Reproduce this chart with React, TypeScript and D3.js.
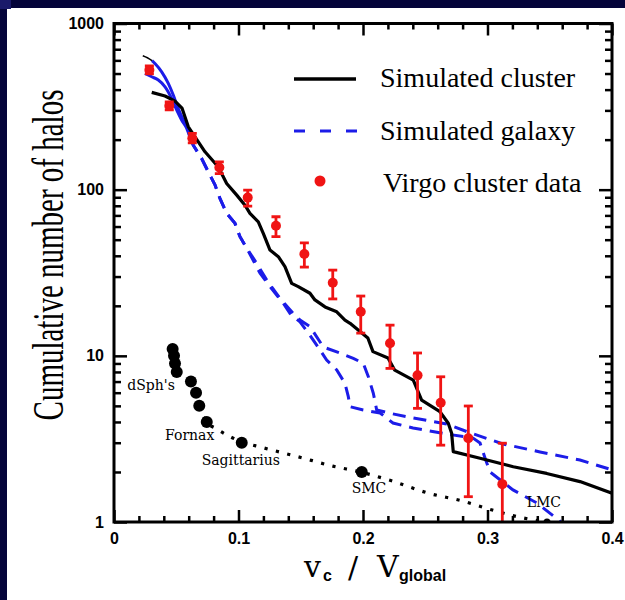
import React from 'react';
import * as d3 from 'd3';

type Pt = [number, number];

// x = v_c / V_global, y = cumulative number of halos
const clusterCurve: Pt[] = [
  [0.0303, 385], [0.041, 366], [0.049, 341], [0.0546, 310], [0.0597, 239], [0.0731, 169],
  [0.0838, 137], [0.0905, 109], [0.0986, 92.7], [0.1052, 80.7], [0.1092, 72], [0.1159, 64.1],
  [0.1199, 54.6], [0.1253, 43.3], [0.132, 39.5], [0.1373, 34.4], [0.1427, 27.3], [0.148, 26.1],
  [0.1574, 23.8], [0.1614, 21.7], [0.1695, 19.7], [0.1789, 18.4], [0.1855, 16.4], [0.1896, 15.7],
  [0.1976, 14.0], [0.2039, 12.8], [0.208, 10.6], [0.2201, 9.7], [0.2255, 8.2], [0.2404, 7.15],
  [0.2471, 5.42], [0.2618, 4.61], [0.2685, 3.93], [0.2712, 3.42], [0.2725, 2.65], [0.294, 2.42],
  [0.3207, 2.15], [0.3475, 1.96], [0.3743, 1.75], [0.4, 1.49],
];
const clusterTip: Pt[] = [[0.0231, 640], [0.0268, 622], [0.0305, 598]];

const galaxyHeadA: Pt[] = [
  [0.0249, 501], [0.0303, 478], [0.0356, 457], [0.041, 416], [0.0463, 354], [0.0504, 301],
  [0.0544, 262], [0.0584, 234], [0.0618, 199],
];
const galaxyHeadB: Pt[] = [
  [0.0305, 598], [0.0329, 575], [0.0383, 512], [0.0436, 436], [0.0476, 371], [0.0516, 308],
  [0.0557, 262], [0.0597, 229], [0.0618, 199],
];
const galaxyShared: Pt[] = [
  [0.0618, 199], [0.0637, 185], [0.0704, 154], [0.0757, 128], [0.0811, 107], [0.0851, 88.7],
  [0.0905, 72], [0.0972, 62.7], [0.1012, 52.1], [0.1066, 44.5],
];
const galaxyTailA: Pt[] = [
  [0.1173, 31.4], [0.1253, 26.1], [0.136, 20.7], [0.1414, 18.0], [0.1494, 16.0], [0.1574, 13.3],
  [0.1628, 11.6], [0.1708, 9.44], [0.1789, 8.22], [0.1855, 6.84], [0.1882, 5.68], [0.1896, 4.94],
  [0.2002, 4.72], [0.2137, 4.53], [0.2241, 3.94], [0.2402, 3.68], [0.2675, 3.38], [0.2884, 3.2],
  [0.294, 2.99], [0.298, 2.43], [0.302, 2.0], [0.3205, 1.56], [0.3398, 1.3], [0.359, 1.0],
];
const galaxyTailB: Pt[] = [
  [0.1146, 36.0], [0.1227, 28.6], [0.1333, 22.2], [0.144, 18.0], [0.1494, 16.4], [0.1574, 15.0],
  [0.1681, 11.3], [0.1815, 10.4], [0.1922, 9.66], [0.2002, 9.02], [0.2043, 7.49], [0.2083, 5.95],
  [0.211, 4.72], [0.2217, 4.51], [0.2351, 4.3], [0.2672, 3.89], [0.2843, 3.48], [0.3124, 2.95],
  [0.3422, 2.64], [0.3743, 2.36], [0.4, 2.06],
];

// Virgo: x, n, lower, upper
const virgoX = [0.0284, 0.0444, 0.0629, 0.0846, 0.1074, 0.1301, 0.1529, 0.1757, 0.1982, 0.2217, 0.2438, 0.2624, 0.2846, 0.3119];
const virgoN = [525, 320, 204, 136, 89.6, 60.6, 41.0, 27.5, 18.4, 11.9, 7.63, 5.22, 3.19, 1.69];
const virgoLo = [497, 302, 191, 125, 79.7, 52.1, 34.2, 22.0, 13.7, 8.4, 4.83, 2.9, 1.42, 0.5];
const virgoHi = [555, 338, 218, 147, 99.5, 68.7, 47.9, 32.8, 22.9, 15.3, 10.4, 7.48, 4.99, 2.98];

const satelliteX = [0.0471, 0.0482, 0.049, 0.0504, 0.0618, 0.0659, 0.0685, 0.0745, 0.1026, 0.199, 0.3478];
const satelliteN = [11, 10, 9, 8, 7, 6, 5, 4, 3, 2, 1];
const satelliteFit: Pt[] = [
  [0.0685, 5], [0.0745, 4.0], [0.0825, 3.63], [0.1026, 3.04], [0.1189, 2.81], [0.1478, 2.47],
  [0.1757, 2.17], [0.199, 1.99], [0.2229, 1.77], [0.2526, 1.49], [0.2795, 1.34], [0.3039, 1.18],
  [0.3256, 1.07], [0.3478, 1.0],
];
const satelliteLabels = ["dSph's", 'Fornax', 'Sagittarius', 'SMC', 'LMC'];
const satelliteLabelX = [0.0107, 0.041, 0.0704, 0.1909, 0.3315];
const satelliteLabelN = [6.23, 3.11, 2.2, 1.49, 1.236];

const xTicks = [0, 0.1, 0.2, 0.3, 0.4];
const xTickLabels = ['0', '0.1', '0.2', '0.3', '0.4'];
const yTicks = [1, 10, 100, 1000];
const yTickLabels = ['1', '10', '100', '1000'];
const legendLabels = ['Simulated cluster', 'Simulated galaxy', 'Virgo cluster data'];

const RED = '#f01414';
const BLUE = '#1c1ce8';

export default class App extends React.Component {
  svgRef = React.createRef<SVGSVGElement>();

  sizing = {
    width: 625,
    height: 600,
    left: 114,
    right: 612,
    top: 23.5,
    bottom: 522,
  };

  setupDom(): void {
    const s = this.sizing;
    const svg = d3.select(this.svgRef.current);
    svg.selectAll('*').remove();

    const x = d3.scaleLinear().domain([0, 0.4]).range([s.left, s.right]);
    const y = d3.scaleLog().domain([1, 1000]).range([s.bottom, s.top]);

    // frame of the slide
    svg.append('rect').attr('width', s.width).attr('height', s.height).attr('fill', '#fff');
    svg.append('rect').attr('width', 7).attr('height', s.height).attr('fill', '#04043a');
    svg.append('rect').attr('width', s.width).attr('height', 8).attr('fill', '#04043a');
    svg.append('rect').attr('width', 11).attr('height', 9).attr('fill', '#1a1a6a');

    svg.append('clipPath').attr('id', 'plot-clip')
      .append('rect')
      .attr('x', s.left).attr('y', s.top)
      .attr('width', s.right - s.left).attr('height', s.bottom - s.top);

    const plot = svg.append('g').attr('clip-path', 'url(#plot-clip)');

    const line = d3.line<Pt>().x(d => x(d[0])).y(d => y(d[1]));
    const smooth = d3.line<Pt>().x(d => x(d[0])).y(d => y(d[1])).curve(d3.curveMonotoneX);

    // satellites fit (dotted)
    plot.append('path').attr('d', smooth(satelliteFit))
      .attr('fill', 'none').attr('stroke', '#000').attr('stroke-width', 3.2)
      .attr('stroke-dasharray', '3.2 8.5');

    // galaxy
    [galaxyHeadA, galaxyHeadB].forEach(h => {
      plot.append('path').attr('d', smooth(h))
        .attr('fill', 'none').attr('stroke', BLUE).attr('stroke-width', 3);
    });
    [galaxyTailA, galaxyTailB].forEach(t => {
      plot.append('path').attr('d', line(galaxyShared.concat(t)))
        .attr('fill', 'none').attr('stroke', BLUE).attr('stroke-width', 3)
        .attr('stroke-dasharray', '13 8');
    });

    // cluster
    plot.append('path').attr('d', smooth(clusterTip))
      .attr('fill', 'none').attr('stroke', '#000').attr('stroke-width', 1.5);
    plot.append('path').attr('d', line(clusterCurve))
      .attr('fill', 'none').attr('stroke', '#000').attr('stroke-width', 3.2)
      .attr('stroke-linejoin', 'round');

    // Virgo data
    const virgo = plot.selectAll('g.virgo')
      .data(virgoX.map((vx, i) => ({x: vx, n: virgoN[i], lo: virgoLo[i], hi: virgoHi[i]})))
      .enter().append('g').attr('class', 'virgo');
    virgo.append('line')
      .attr('x1', d => x(d.x)).attr('x2', d => x(d.x))
      .attr('y1', d => y(Math.max(d.lo, 0.9))).attr('y2', d => y(d.hi))
      .attr('stroke', RED).attr('stroke-width', 2.8);
    virgo.append('line')
      .attr('x1', d => x(d.x) - 4.5).attr('x2', d => x(d.x) + 4.5)
      .attr('y1', d => y(d.hi)).attr('y2', d => y(d.hi))
      .attr('stroke', RED).attr('stroke-width', 2.8);
    virgo.filter(d => d.lo >= 1).append('line')
      .attr('x1', d => x(d.x) - 4.5).attr('x2', d => x(d.x) + 4.5)
      .attr('y1', d => y(d.lo)).attr('y2', d => y(d.lo))
      .attr('stroke', RED).attr('stroke-width', 2.8);
    virgo.append('circle')
      .attr('cx', d => x(d.x)).attr('cy', d => y(d.n)).attr('r', 5)
      .attr('fill', RED);

    // Milky Way satellites
    plot.selectAll('circle.sat')
      .data(satelliteX.map((sx, i) => ({x: sx, n: satelliteN[i]})))
      .enter().append('circle').attr('class', 'sat')
      .attr('cx', d => x(d.x)).attr('cy', d => y(d.n))
      .attr('r', d => (d.n === 1 ? 3.5 : 6))
      .attr('fill', '#000');

    svg.selectAll('text.sat-label')
      .data(satelliteLabels)
      .enter().append('text').attr('class', 'sat-label')
      .attr('x', (_d, i) => x(satelliteLabelX[i]))
      .attr('y', (_d, i) => y(satelliteLabelN[i]))
      .attr('font-family', '"DejaVu Serif", serif')
      .attr('font-size', 14)
      .text(d => d);

    // axes: inward ticks on all four sides
    const tickFont = (g: d3.Selection<SVGGElement, unknown, null, undefined>) => {
      g.select('.domain').remove();
      g.selectAll('line').attr('stroke', '#000').attr('stroke-width', 2.5);
      g.selectAll('text').attr('font-family', '"Liberation Sans", Arial, sans-serif')
        .attr('font-weight', 'bold').attr('font-size', 16).attr('fill', '#000');
    };
    const xMinor = d3.range(0, 0.4001, 0.02).filter(v => Math.abs(v * 10 - Math.round(v * 10)) > 1e-6);
    const yMinor = [1, 10, 100].flatMap(p => d3.range(2, 10).map(k => k * p));

    svg.append('g').attr('transform', `translate(0,${s.bottom})`)
      .call(d3.axisBottom(x).tickValues(xTicks).tickSize(-12).tickPadding(11)
        .tickFormat((_d, i) => xTickLabels[i]))
      .call(tickFont);
    svg.append('g').attr('transform', `translate(0,${s.bottom})`)
      .call(d3.axisBottom(x).tickValues(xMinor).tickSize(-6).tickFormat(() => ''))
      .call(tickFont);
    svg.append('g').attr('transform', `translate(0,${s.top})`)
      .call(d3.axisTop(x).tickValues(xTicks).tickSize(-12).tickFormat(() => ''))
      .call(tickFont);
    svg.append('g').attr('transform', `translate(0,${s.top})`)
      .call(d3.axisTop(x).tickValues(xMinor).tickSize(-6).tickFormat(() => ''))
      .call(tickFont);

    svg.append('g').attr('transform', `translate(${s.left},0)`)
      .call(d3.axisLeft(y).tickValues(yTicks).tickSize(-13).tickPadding(10)
        .tickFormat((_d, i) => yTickLabels[i]))
      .call(tickFont);
    svg.append('g').attr('transform', `translate(${s.left},0)`)
      .call(d3.axisLeft(y).tickValues(yMinor).tickSize(-7).tickFormat(() => ''))
      .call(tickFont);
    svg.append('g').attr('transform', `translate(${s.right},0)`)
      .call(d3.axisRight(y).tickValues(yTicks).tickSize(-13).tickFormat(() => ''))
      .call(tickFont);
    svg.append('g').attr('transform', `translate(${s.right},0)`)
      .call(d3.axisRight(y).tickValues(yMinor).tickSize(-7).tickFormat(() => ''))
      .call(tickFont);

    svg.append('rect')
      .attr('x', s.left).attr('y', s.top)
      .attr('width', s.right - s.left).attr('height', s.bottom - s.top)
      .attr('fill', 'none').attr('stroke', '#000').attr('stroke-width', 3);

    // legend
    const serif = '"Liberation Serif", "Times New Roman", serif';
    const legend = svg.append('g');
    legend.append('line').attr('x1', 294).attr('x2', 356).attr('y1', 79).attr('y2', 79)
      .attr('stroke', '#000').attr('stroke-width', 3.5);
    legend.append('line').attr('x1', 294).attr('x2', 358).attr('y1', 131).attr('y2', 131)
      .attr('stroke', BLUE).attr('stroke-width', 3).attr('stroke-dasharray', '11 15');
    legend.append('circle').attr('cx', 320).attr('cy', 181).attr('r', 5.5).attr('fill', RED);
    legend.selectAll('text')
      .data(legendLabels)
      .enter().append('text')
      .attr('x', (_d, i) => (i === 2 ? 383 : 380))
      .attr('y', (_d, i) => [87, 140, 192][i])
      .attr('font-family', serif).attr('font-size', 28).attr('fill', '#000')
      .text(d => d);

    // axis titles (tall, narrow glyphs: scaled across the baseline)
    svg.append('text')
      .attr('transform', 'translate(63,255) rotate(-90) scale(1,1.5)')
      .attr('text-anchor', 'middle')
      .attr('font-family', serif).attr('font-size', 29)
      .text('Cumulative number of halos');

    const sans = '"Liberation Sans", Arial, sans-serif';
    const xt = svg.append('g').attr('font-family', '"DejaVu Serif", serif').attr('font-size', 30);
    xt.append('text').attr('x', 304).attr('y', 577).text('v');
    xt.append('text').attr('x', 323).attr('y', 581)
      .attr('font-family', sans).attr('font-weight', 'bold').attr('font-size', 16).text('c');
    xt.append('text').attr('x', 348).attr('y', 578).text('/');
    xt.append('text').attr('x', 377).attr('y', 577).text('V');
    xt.append('text').attr('x', 399).attr('y', 581)
      .attr('font-family', sans).attr('font-weight', 'bold').attr('font-size', 16).text('global');
  }

  componentDidMount(): void {
    this.setupDom();
  }

  render(): React.ReactNode {
    return (
      <svg
        ref={this.svgRef}
        width={this.sizing.width}
        height={this.sizing.height}
        style={{position: 'absolute', left: 0, top: 0}}
      />
    );
  }
}
